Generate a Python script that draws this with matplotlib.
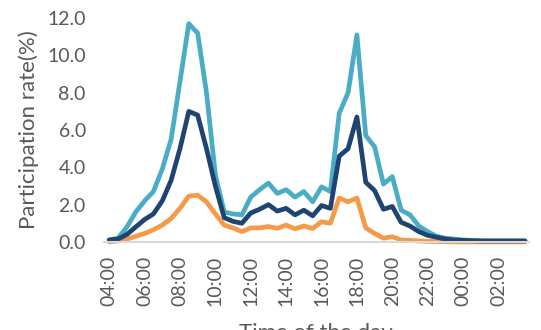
import numpy as np
import matplotlib
matplotlib.use("Agg")
import matplotlib.pyplot as plt

# half-hourly slots, 04:00 .. 03:30
slots = [f"{(4 + i // 2) % 24:02d}:{30 * (i % 2):02d}" for i in range(48)]

light = [0.1, 0.2, 0.8, 1.6, 2.2, 2.7, 3.9, 5.5, 8.6, 11.7, 11.2, 8.0,
         3.6, 1.6, 1.5, 1.45, 2.4, 2.8, 3.15, 2.6, 2.8, 2.4, 2.7, 2.15,
         2.95, 2.7, 6.9, 8.0, 11.1, 5.7, 5.1, 3.1, 3.5, 1.7, 1.45, 0.85,
         0.55, 0.3, 0.2, 0.15, 0.1, 0.08, 0.06, 0.05, 0.05, 0.05, 0.05, 0.05]
navy = [0.1, 0.15, 0.4, 0.8, 1.2, 1.5, 2.2, 3.3, 5.0, 7.0, 6.8, 5.0,
        3.0, 1.3, 1.1, 1.0, 1.55, 1.75, 2.0, 1.65, 1.8, 1.45, 1.7, 1.4,
        1.95, 1.8, 4.6, 5.0, 6.7, 3.2, 2.75, 1.75, 1.9, 1.05, 0.85, 0.55,
        0.35, 0.25, 0.15, 0.1, 0.08, 0.06, 0.05, 0.05, 0.05, 0.05, 0.05, 0.05]
orange = [0.0, 0.05, 0.15, 0.3, 0.45, 0.65, 0.9, 1.25, 1.8, 2.45, 2.5, 2.15,
          1.5, 0.9, 0.75, 0.55, 0.75, 0.75, 0.82, 0.73, 0.9, 0.7, 0.85, 0.72,
          1.08, 1.0, 2.35, 2.15, 2.35, 0.75, 0.45, 0.2, 0.28, 0.1, 0.08, 0.05,
          0.03, 0.02, 0.01, 0.0, 0.0, 0.0, 0.0, 0.0, 0.0, 0.0, 0.0, 0.0]

grey = "#595959"
plt.rcParams.update({"font.family": ["Lato", "DejaVu Sans"], "text.color": grey,
                     "axes.labelcolor": grey,
                     "xtick.color": grey, "ytick.color": grey})

fig = plt.figure(figsize=(5.41, 3.30), dpi=100)
ax = fig.add_axes([0.192, 0.267, 0.785, 0.678])
x = np.arange(len(slots))
kw = dict(lw=3.4, solid_joinstyle="round", solid_capstyle="round", clip_on=False)
ax.plot(x, light, color="#4BACC6", **kw)
ax.plot(x, orange, color="#F59A48", **kw)
ax.plot(x, navy, color="#1F4472", **kw)

ax.set_xlim(-0.6, 47.4)
ax.set_ylim(0, 12)
ax.set_yticks(np.arange(0, 12.1, 2))
ax.set_yticklabels([f"{v:.1f}" for v in np.arange(0, 12.1, 2)], fontsize=14)
ax.set_xticks(x[::4])
ax.set_xticklabels(slots[::4], rotation=90, fontsize=14)
ax.tick_params(axis="y", length=0, pad=13)
ax.tick_params(axis="x", length=0, pad=10)
for s in ("top", "right", "left"):
    ax.spines[s].set_visible(False)
ax.spines["bottom"].set_color("#D9D9D9")
ax.spines["bottom"].set_linewidth(1.5)
ax.set_ylabel("Participation rate(%)", fontsize=16, labelpad=6)
ax.set_xlabel("Time of the day", fontsize=16, labelpad=12)

fig.savefig("out.png", dpi=100)
